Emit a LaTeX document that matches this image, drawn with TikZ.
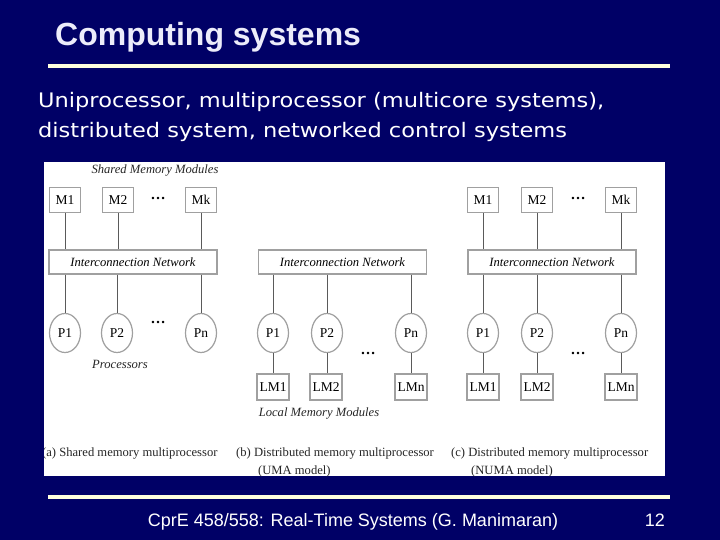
\documentclass[tikz,border=0pt]{standalone}
\usepackage{fontspec}
\setmainfont{Liberation Serif}
\newfontfamily\titlefont{Liberation Sans}
\newfontfamily\bodyfont[FakeStretch=1.125]{DejaVu Sans}
\usetikzlibrary{shapes.geometric}
\definecolor{navy}{RGB}{0,0,102}
\definecolor{cream}{RGB}{255,255,221}
\definecolor{titlecol}{RGB}{236,236,250}
\definecolor{boxgray}{RGB}{160,160,160}
\definecolor{linegray}{RGB}{90,90,90}
\begin{document}
\begin{tikzpicture}[x=1pt,y=-1pt,
  membox/.style={draw=boxgray,line width=1.4pt,fill=white,minimum width=31pt,minimum height=25pt,inner sep=0pt,font=\fontsize{13.5}{13.5}\selectfont},
  netbox/.style={draw=boxgray,line width=1.4pt,fill=white,minimum width=168pt,minimum height=24pt,inner sep=0pt,font=\fontsize{12.6}{12.6}\selectfont\itshape},
  procnode/.style={ellipse,draw=boxgray,line width=1.2pt,fill=white,minimum width=31pt,minimum height=39pt,inner sep=0pt,font=\fontsize{13.5}{13.5}\selectfont},
  lmbox/.style={draw=boxgray,line width=1.4pt,fill=white,minimum width=32pt,minimum height=26pt,inner sep=0pt,font=\fontsize{13.5}{13.5}\selectfont},
  wire/.style={draw=linegray,line width=0.7pt},
  dotsl/.style={font=\fontsize{15}{15}\selectfont\bfseries},
  lbl/.style={font=\fontsize{12.6}{12.6}\selectfont\itshape,text=black!85},
  capt/.style={font=\fontsize{12.6}{12.6}\selectfont,text=black!85,anchor=base west,inner sep=0pt}
]
\useasboundingbox (0,0) rectangle (720,540);
\fill[navy] (0,0) rectangle (720,540);
% title
\node[anchor=base west,inner sep=0pt,text=titlecol,font=\titlefont\fontsize{32}{32}\selectfont\bfseries] (title) at (55,46) {Computing systems};
\fill[cream] (48,64) rectangle (670,68);
% body text
\node[anchor=base west,inner sep=0pt,text=white,font=\bodyfont\fontsize{20}{20}\selectfont] (body1) at (38,108) {Uniprocessor, multiprocessor (multicore systems),};
\node[anchor=base west,inner sep=0pt,text=white,font=\bodyfont\fontsize{20}{20}\selectfont] (body2) at (38,138) {distributed system, networked control systems};
% image area
\fill[white] (44,162) rectangle (665,476);
\begin{scope}
\clip (44,162) rectangle (665,476);
% ---- panel (a)
\node[lbl] (sml) at (155,170) {Shared Memory Modules};
\node[membox] (aM1) at (65,200) {M1};
\node[membox] (aM2) at (118,200) {M2};
\node[membox] (aMk) at (201,200) {Mk};
\node[dotsl] (adt) at (158,198) {\dots};
\node[netbox] (aIN) at (133,262) {Interconnection Network};
\node[procnode] (aP1) at (65,333) {P1};
\node[procnode] (aP2) at (117,333) {P2};
\node[procnode] (aPn) at (201,333) {Pn};
\node[dotsl] (adb) at (158,322) {\dots};
\node[lbl] (procl) at (120,364) {Processors};
\foreach \m in {aM1,aM2,aMk} \draw[wire] (\m.south) -- (aIN.north -| \m);
\foreach \p in {aP1,aP2,aPn} \draw[wire] (aIN.south -| \p) -- (\p.north);
\node[capt] (capa) at (42,456) {(a) Shared memory multiprocessor};
% ---- panel (b)
\node[netbox] (bIN) at (342.5,262) {Interconnection Network};
\node[procnode] (bP1) at (273,333) {P1};
\node[procnode] (bP2) at (327,333) {P2};
\node[procnode] (bPn) at (411,333) {Pn};
\node[lmbox] (bL1) at (273,387) {LM1};
\node[lmbox] (bL2) at (326,387) {LM2};
\node[lmbox] (bLn) at (411,387) {LMn};
\node[dotsl] (bdt) at (368,353) {\dots};
\node[lbl] (lml) at (319,413) {Local Memory Modules};
\foreach \p/\l in {bP1/bL1,bP2/bL2,bPn/bLn} {
  \draw[wire] (bIN.south -| \p) -- (\p.north);
  \draw[wire] (\p.south) -- (\l.north -| \p);
}
\node[capt] (capb) at (236,456) {(b) Distributed memory multiprocessor};
\node[capt] (capb2) at (258,474) {(UMA model)};
% ---- panel (c)
\node[membox] (cM1) at (483,200) {M1};
\node[membox] (cM2) at (537,200) {M2};
\node[membox] (cMk) at (621,200) {Mk};
\node[dotsl] (cdt) at (578,198) {\dots};
\node[netbox] (cIN) at (552,262) {Interconnection Network};
\node[procnode] (cP1) at (483,333) {P1};
\node[procnode] (cP2) at (537,333) {P2};
\node[procnode] (cPn) at (621,333) {Pn};
\node[lmbox] (cL1) at (483,387) {LM1};
\node[lmbox] (cL2) at (537,387) {LM2};
\node[lmbox] (cLn) at (621,387) {LMn};
\node[dotsl] (cdb) at (578,353) {\dots};
\foreach \m in {cM1,cM2,cMk} \draw[wire] (\m.south) -- (cIN.north -| \m);
\foreach \p/\l in {cP1/cL1,cP2/cL2,cPn/cLn} {
  \draw[wire] (cIN.south -| \p) -- (\p.north);
  \draw[wire] (\p.south) -- (\l.north -| \p);
}
\node[capt] (capc) at (451,456) {(c) Distributed memory multiprocessor};
\node[capt] (capc2) at (471,474) {(NUMA model)};
\end{scope}
% footer
\fill[cream] (48,495) rectangle (670,499);
\node[anchor=base,inner sep=0pt,text=white,font=\titlefont\fontsize{18}{18}\selectfont] (foot) at (353,526) {CprE 458/558: Real-Time Systems (G. Manimaran)};
\node[anchor=base east,inner sep=0pt,text=white,font=\titlefont\fontsize{18}{18}\selectfont] (pnum) at (665,526) {12};
\end{tikzpicture}
\end{document}
